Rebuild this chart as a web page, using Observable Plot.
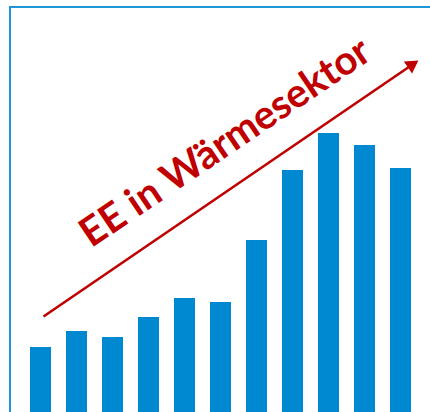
<!DOCTYPE html>
<html>
<head>
<meta charset="utf-8">
<script src="https://cdn.jsdelivr.net/npm/d3@7"></script>
<script src="https://cdn.jsdelivr.net/npm/@observablehq/plot@0.6"></script>
<style>
  html, body { margin: 0; padding: 0; background: #fff; }
  #wrap { position: relative; width: 430px; height: 412px; overflow: hidden; }
  #box { position: absolute; left: 9px; top: 6px; right: -5px; bottom: -5px;
         border-left: 2px solid #1E95D7; border-top: 2px solid #1E95D7; }
</style>
</head>
<body>
<div id="wrap"><div id="box"></div></div>
<script>
// Data (arbitrary units)
const years  = [2008, 2009, 2010, 2011, 2012, 2013, 2014, 2015, 2016, 2017, 2018];
const values = [6.5, 8.1, 7.5, 9.5, 11.4, 11.0, 17.2, 24.2, 27.9, 26.7, 24.4];

// Trend arrow annotation (data units)
const arrowX = [2008.57, 2018.79];
const arrowY = [9.6, 34.73];
const labelText = ["EE in Wärmesektor"];
const labelX = [2013.62];
const labelY = [27.0];

const bars = years.map((year, i) => ({year, value: values[i]}));
const arrow = [{x1: arrowX[0], y1: arrowY[0], x2: arrowX[1], y2: arrowY[1]}];
const label = labelText.map((t, i) => ({t, x: labelX[i], y: labelY[i]}));

const red = "#C00000";
const blue = "#0088D0";

const chart = Plot.plot({
  width: 430,
  height: 412,
  marginLeft: 22.5,
  marginRight: 11.5,
  marginTop: 12,
  marginBottom: 0,
  x: {domain: [2008, 2019], axis: null},
  y: {domain: [0, 40], axis: null},
  marks: [
    Plot.rectY(bars, {x1: d => d.year, x2: d => d.year + 1, y: "value", fill: blue, insetLeft: 7.5, insetRight: 7.5}),
    Plot.link(arrow, {x1: "x1", y1: "y1", x2: "x2", y2: "y2", stroke: red, strokeWidth: 2.6}),
    Plot.dot(arrow, {x: "x2", y: "y2", symbol: "triangle", r: 5.4, fill: red, stroke: "none", rotate: 55.7}),
    Plot.text(label, {x: "x", y: "y", text: "t", rotate: -34, fill: red, fontSize: 40, fontWeight: "bold", fontFamily: "Lato"})
  ]
});
chart.style.position = "absolute";
chart.style.left = "0";
chart.style.top = "0";
chart.style.background = "transparent";
document.getElementById("wrap").appendChild(chart);
</script>
</body>
</html>
